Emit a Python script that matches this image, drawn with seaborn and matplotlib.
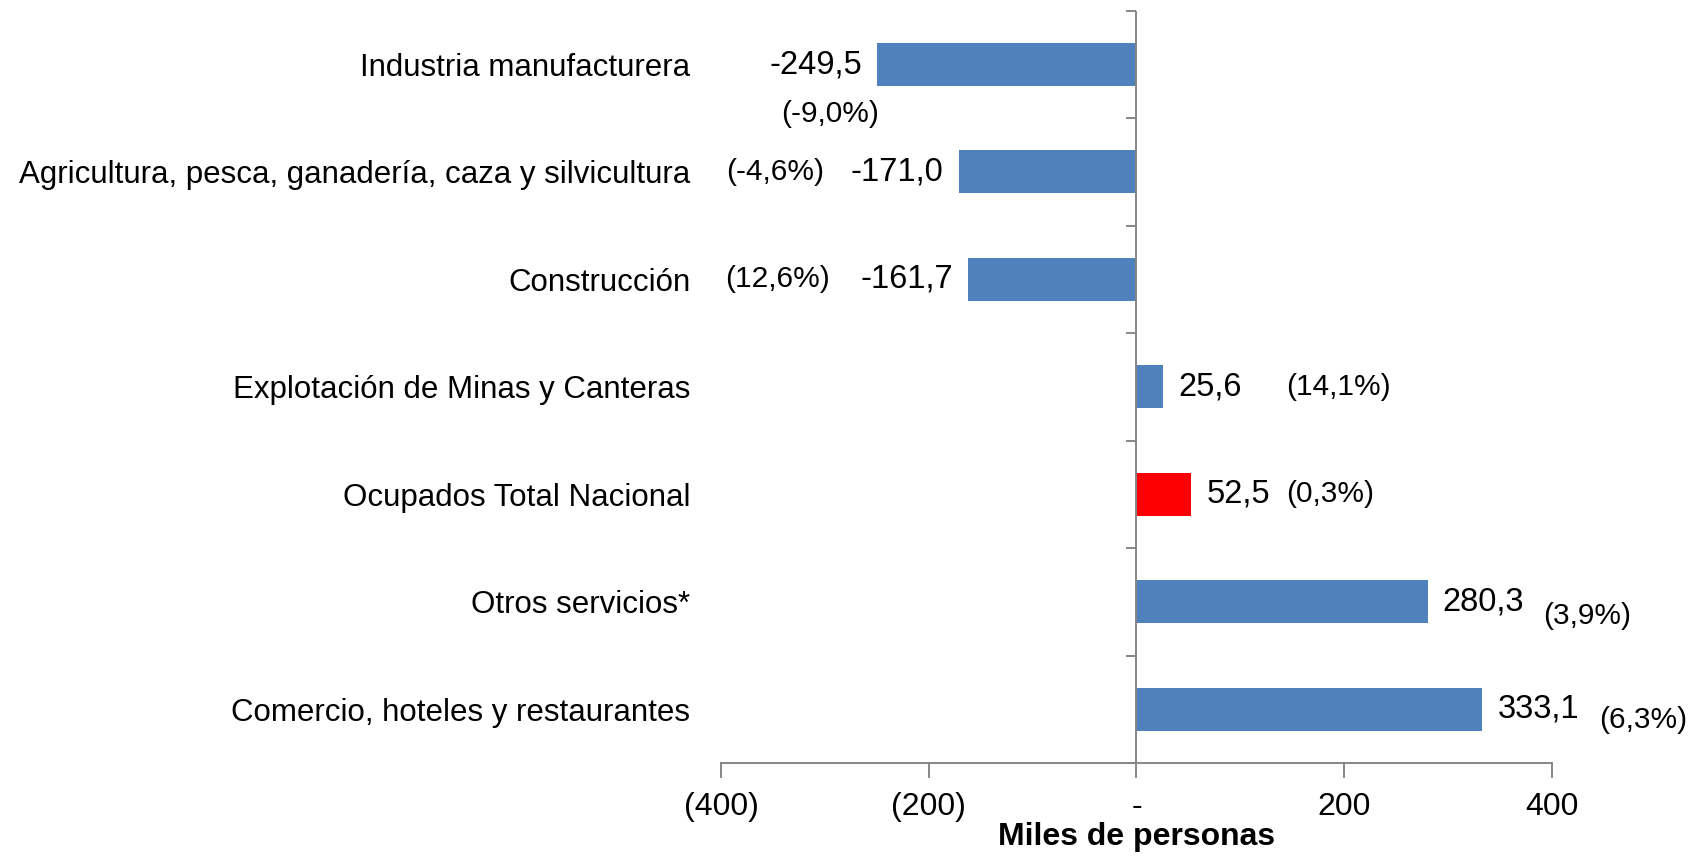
import numpy as np
import pandas as pd
import matplotlib
matplotlib.use("Agg")
import matplotlib.pyplot as plt
import seaborn as sns

# ---- data ----
categories = [
    "Industria manufacturera",
    "Agricultura, pesca, ganadería, caza y silvicultura",
    "Construcción",
    "Explotación de Minas y Canteras",
    "Ocupados Total Nacional",
    "Otros servicios*",
    "Comercio, hoteles y restaurantes",
]
values = [-249.5, -171.0, -161.7, 25.6, 52.5, 280.3, 333.1]
value_labels = ["-249,5", "-171,0", "-161,7", "25,6", "52,5", "280,3", "333,1"]
pct_labels = ["(-9,0%)", "(-4,6%)", "(12,6%)", "(14,1%)", "(0,3%)", "(3,9%)", "(6,3%)"]
x_ticks = [-400, -200, 0, 200, 400]

# ---- layout / style (label placement in data units) ----
pct_x = [-295, -348, -346, 194, 186, 434, 488]
pct_dy = [0.46, 0.0, 0.0, 0.0, 0.0, 0.13, 0.10]
BLUE = "#4F81BD"
RED = "#FF0000"
GRAY = "#868686"
colors = [RED if c == "Ocupados Total Nacional" else BLUE for c in categories]

sns.set_theme(style="white")
plt.rcParams["font.family"] = ["Liberation Sans", "DejaVu Sans"]

fig = plt.figure(figsize=(16.9, 8.56), dpi=100)
ax = fig.add_axes([0.4266, 0.1086, 0.4917, 0.8788])

df = pd.DataFrame({"cat": categories, "val": values})
sns.barplot(data=df, x="val", y="cat", hue="cat", palette=colors, legend=False,
            orient="h", width=0.4, ax=ax, saturation=1, edgecolor="none")

ax.set_xlim(-400, 400)
ax.set_ylim(len(categories) - 0.5, -0.5)

# spines
for s in ["top", "right", "left"]:
    ax.spines[s].set_visible(False)
ax.spines["bottom"].set_color(GRAY)
ax.spines["bottom"].set_linewidth(1.4)

# x axis ticks
ax.set_xticks(x_ticks)
ax.set_xticklabels(["-" if v == 0 else (f"({abs(v)})" if v < 0 else f"{v}") for v in x_ticks],
                   fontsize=23, color="black")
ax.tick_params(axis="x", direction="out", length=11, width=1.4, color=GRAY, pad=10, bottom=True)
ax.set_xlabel("Miles de personas", fontsize=23, fontweight="bold", labelpad=0, color="black")

# y categorical labels at the left edge
ax.set_yticks(range(len(categories)))
ax.set_yticklabels(categories, fontsize=22.5, color="black")
ax.tick_params(axis="y", length=0, pad=22, left=True)
ax.set_ylabel("")

# vertical axis line at zero with boundary ticks pointing left
ax.axvline(0, color=GRAY, lw=1.4, zorder=3)
boundaries = np.arange(-0.5, len(categories), 1.0)
ax.hlines(boundaries, -10, 0, color=GRAY, lw=1.4, zorder=3, clip_on=False)

# value labels
for i, (v, lab) in enumerate(zip(values, value_labels)):
    off = 11 if v >= 0 else -11
    ax.annotate(lab, xy=(v, i), xytext=(off, 0), textcoords="offset points",
                ha="left" if v >= 0 else "right", va="center", fontsize=23.5,
                color="black", annotation_clip=False)

# percent labels
for i, (px, dy, lab) in enumerate(zip(pct_x, pct_dy, pct_labels)):
    ax.text(px, i + dy, lab, ha="center", va="center", fontsize=21.5,
            color="black", clip_on=False)

fig.savefig("out.png", dpi=100)
